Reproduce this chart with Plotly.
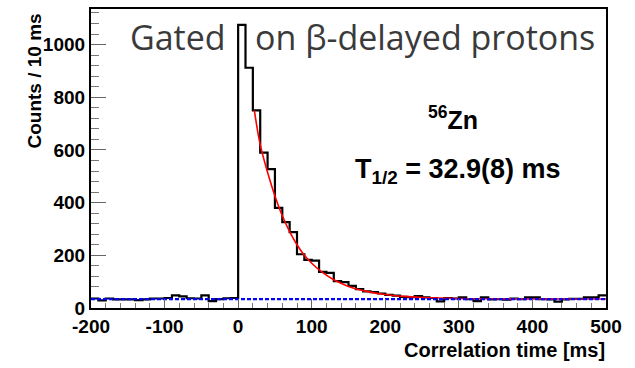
import plotly.graph_objects as go

# ---------------- data ----------------
bin_width = 10
bin_lefts = list(range(-200, 500, bin_width))
counts = [
    36, 29, 36, 33, 33, 33, 30, 33, 36, 36,   # -200 .. -110
    38, 48, 44, 37, 36, 48, 26, 34, 37, 38,   # -100 .. -10
    1075, 912, 750, 590, 527, 380, 326, 288, 204, 183,   # 0 .. 90
    180, 137, 133, 102, 98, 84, 72, 63, 60, 55,          # 100 .. 190
    50, 47, 42, 41, 45, 40, 38, 25, 38, 36,              # 200 .. 290
    40, 34, 26, 40, 33, 34, 32, 36, 34, 40,              # 300 .. 390
    40, 34, 33, 24, 33, 35, 35, 40, 40, 48,              # 400 .. 490
]

fit_t = [22, 30, 40, 50, 60, 70, 80, 90, 100, 115, 130, 150, 175, 200, 225, 250, 300, 350, 400, 450, 500]
fit_y = [750, 620, 515, 425, 350, 290, 240, 200, 170, 134, 107, 82, 63, 51, 44, 40, 36, 35, 34.5, 34.3, 34.2]

bkg_t = [-200, 500]
bkg_y = [34, 34]

x_tickvals = [-200, -100, 0, 100, 200, 300, 400, 500]
x_ticktext = ["-200", "-100", "0", "100", "200", "300", "400", "500"]
y_tickvals = [0, 200, 400, 600, 800, 1000]
y_ticktext = ["0", "200", "400", "600", "800", "1000"]

# ---------------- layout helpers ----------------
W, H = 635, 368
ML, MR, MT, MB = 91, 29, 7, 60
PW, PH = W - ML - MR, H - MT - MB


def px(xp):
    return (xp - ML) / PW


def py(yp):
    return 1 - (yp - MT) / PH


step_x = bin_lefts + [bin_lefts[-1] + bin_width]
step_y = counts + [counts[-1]]

fig = go.Figure()
fig.add_trace(go.Scatter(x=step_x, y=step_y, mode="lines",
                         line=dict(shape="hv", color="black", width=2.2),
                         hoverinfo="skip", showlegend=False))
fig.add_trace(go.Scatter(x=fit_t, y=fit_y, mode="lines",
                         line=dict(shape="spline", color="#ff0000", width=1.6),
                         hoverinfo="skip", showlegend=False))
fig.add_trace(go.Scatter(x=bkg_t, y=bkg_y, mode="lines",
                         line=dict(color="#0000ff", width=2.3, dash="4px,2px"),
                         hoverinfo="skip", showlegend=False))

bold = "Liberation Sans, Arial, sans-serif"
tick_font = dict(family=bold, size=19, color="black", weight="bold")

fig.update_xaxes(range=[-200, 500], showgrid=False, zeroline=False,
                 showline=True, linecolor="black", linewidth=2.2, mirror=True,
                 ticks="inside", ticklen=9, tickwidth=1.3, tickcolor="#666",
                 tickvals=x_tickvals, ticktext=x_ticktext,
                 tickfont=tick_font,
                 minor=dict(ticks="inside", dtick=20, tick0=0, ticklen=5,
                            tickwidth=1.2, tickcolor="#777"))
fig.update_yaxes(range=[0, 1135], showgrid=False, zeroline=False,
                 showline=True, linecolor="black", linewidth=2.2, mirror=True,
                 ticks="inside", ticklen=15, tickwidth=1.3, tickcolor="#666",
                 tickvals=y_tickvals, ticktext=y_ticktext,
                 tickfont=tick_font,
                 minor=dict(ticks="inside", dtick=40, tick0=0, ticklen=8,
                            tickwidth=1.2, tickcolor="#777"))

ann = [
    dict(text="Gated", x=px(128), y=py(35), xanchor="left", yanchor="middle",
         font=dict(family="Open Sans", size=34, color="#3a3a3a")),
    dict(text="on β-delayed protons", x=px(253), y=py(35), xanchor="left", yanchor="middle",
         font=dict(family="Open Sans", size=34, color="#3a3a3a")),
    dict(text="<b><sup>56</sup>Zn</b>", x=px(453), y=py(117), xanchor="center", yanchor="middle",
         font=dict(family=bold, size=25, color="black")),
    dict(text="<b>T<sub>1/2</sub> = 32.9(8) ms</b>", x=px(458), y=py(170), xanchor="center", yanchor="middle",
         font=dict(family=bold, size=27, color="black")),
    dict(text="<b>Counts / 10 ms</b>", x=px(35), y=py(80), xanchor="center", yanchor="middle",
         textangle=-90, font=dict(family=bold, size=19, color="black")),
    dict(text="<b>Correlation time [ms]</b>", x=px(607), y=py(350), xanchor="right", yanchor="middle",
         font=dict(family=bold, size=20, color="black")),
]
for a in ann:
    a.update(xref="paper", yref="paper", showarrow=False)

fig.update_layout(width=W, height=H, margin=dict(l=ML, r=MR, t=MT, b=MB),
                  paper_bgcolor="white", plot_bgcolor="white",
                  annotations=ann, showlegend=False)

fig.write_html("out.html")
